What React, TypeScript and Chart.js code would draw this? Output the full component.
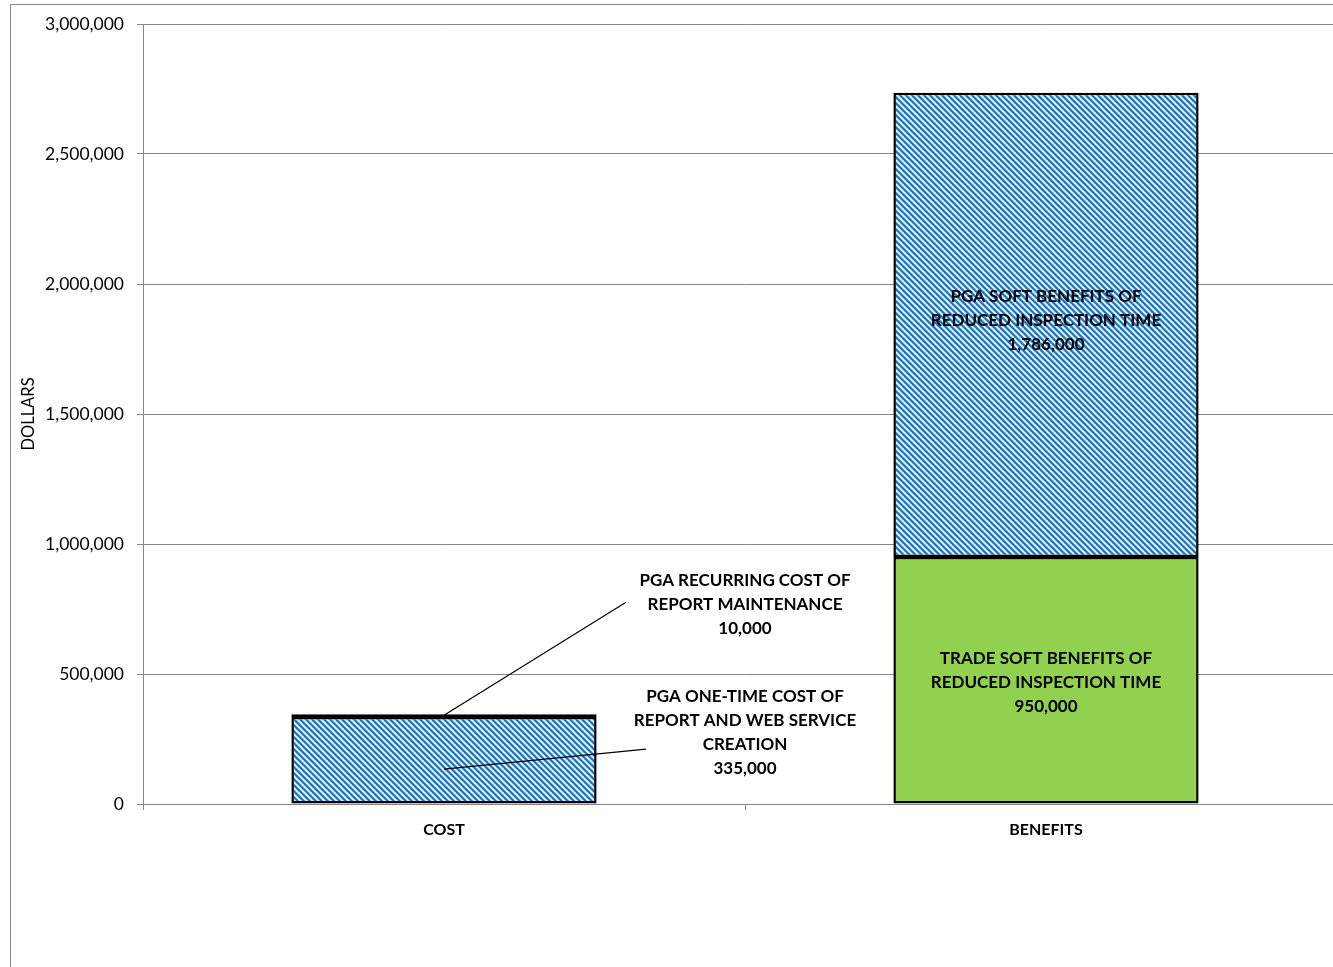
import React, { useEffect, useRef } from "react";
import { Chart, registerables } from "chart.js";

Chart.register(...registerables);

const categories = ["COST", "BENEFITS"];
const baseSegment = [335000, 950000];
const topSegment = [10000, 1786000];
const baseLabelText = [
  ["PGA ONE-TIME COST OF", "REPORT AND WEB SERVICE", "CREATION"],
  ["TRADE SOFT BENEFITS OF", "REDUCED INSPECTION TIME"],
];
const topLabelText = [
  ["PGA RECURRING COST OF", "REPORT MAINTENANCE"],
  ["PGA SOFT BENEFITS OF", "REDUCED INSPECTION TIME"],
];
const yMin = 0;
const yMax = 3000000;
const yStep = 500000;
const yTitle = "DOLLARS";

const GRID = "#868686";
const GREEN = "#92d050";
const FONT = "Lato";

function fmt(v: number) {
  return v.toLocaleString("en-US");
}

function makeHatch(ctx: CanvasRenderingContext2D) {
  const s = 6;
  const c = document.createElement("canvas");
  c.width = s;
  c.height = s;
  const g = c.getContext("2d")!;
  const cols = ["#1a78c6", "#1a78c6", "#4b97d6", "#d3e6f6", "#f6fafe", "#8cbfe8"];
  for (let y = 0; y < s; y++) {
    for (let x = 0; x < s; x++) {
      const d = (((x - y) % s) + s) % s;
      g.fillStyle = cols[d];
      g.fillRect(x, y, 1, 1);
    }
  }
  return ctx.createPattern(c, "repeat")!;
}

const annotationPlugin = {
  id: "annotations",
  afterDatasetsDraw(chart: any) {
    const { ctx, scales } = chart;
    const x = scales.x;
    const y = scales.y;
    const lh = 24;
    ctx.save();
    const drawBlock = (lines: string[], cx: number, cy: number) => {
      const n = lines.length;
      lines.forEach((l, i) => ctx.fillText(l, cx, cy + (i - (n - 1) / 2) * lh));
    };
    const x0 = x.getPixelForValue(0);
    const x1 = x.getPixelForValue(1);
    const mid = (x0 + x1) / 2;
    const costTop = y.getPixelForValue(baseSegment[0] + topSegment[0]);
    const zero = y.getPixelForValue(0);

    // leader lines
    ctx.strokeStyle = "#000";
    ctx.lineWidth = 1.2;
    ctx.beginPath();
    ctx.moveTo(x0, costTop + 1);
    ctx.lineTo(mid - 119, costTop - 112);
    ctx.stroke();
    ctx.beginPath();
    ctx.moveTo(x0, y.getPixelForValue(baseSegment[0] * 0.4));
    ctx.lineTo(mid - 99, y.getPixelForValue(baseSegment[0] * 0.4) - 20);
    ctx.stroke();

    ctx.font = `bold 17px ${FONT}`;
    ctx.fillStyle = "#000";
    ctx.textAlign = "center";
    ctx.textBaseline = "middle";

    // cost labels (outside)
    drawBlock([...topLabelText[0], fmt(topSegment[0])], mid, costTop - 110);
    drawBlock([...baseLabelText[0], fmt(baseSegment[0])], mid, costTop + 18);

    // benefits labels (inside)
    const bTop = y.getPixelForValue(baseSegment[1]);
    const bTotal = y.getPixelForValue(baseSegment[1] + topSegment[1]);
    drawBlock([...baseLabelText[1], fmt(baseSegment[1])], x1, (zero + bTop) / 2 + 2);
    drawBlock([...topLabelText[1], fmt(topSegment[1])], x1, (bTop + bTotal) / 2 - 4);
    ctx.restore();
  },
};

export default function App() {
  const ref = useRef<HTMLCanvasElement>(null);
  useEffect(() => {
    const canvas = ref.current!;
    const ctx = canvas.getContext("2d")!;
    const hatch = makeHatch(ctx);
    const chart = new Chart(ctx, {
      type: "bar",
      data: {
        labels: categories,
        datasets: [
          {
            label: "base",
            data: baseSegment,
            backgroundColor: [hatch, GREEN] as any,
            borderColor: "#000",
            borderWidth: 2.5,
            borderSkipped: false,
          },
          {
            label: "top",
            data: topSegment,
            backgroundColor: hatch as any,
            borderColor: "#000",
            borderWidth: 2.5,
            borderSkipped: false,
          },
        ],
      },
      options: {
        animation: false,
        responsive: false,
        maintainAspectRatio: false,
        layout: { padding: { top: 24, right: 13, bottom: 0, left: 0 } },
        plugins: { legend: { display: false }, tooltip: { enabled: false } },
        datasets: { bar: { categoryPercentage: 1, barPercentage: 0.507 } },
        scales: {
          x: {
            stacked: true,
            grid: { drawOnChartArea: false, offset: true, tickLength: 6, color: GRID },
            border: { color: GRID },
            ticks: { font: { family: FONT, size: 16, weight: "bold" }, color: "#000", padding: 10 },
            afterFit: (s: any) => {
              s.height = 163;
            },
          },
          y: {
            stacked: true,
            min: yMin,
            max: yMax,
            ticks: {
              stepSize: yStep,
              callback: (v: any) => fmt(Number(v)),
              font: { family: FONT, size: 17.5 },
              color: "#000",
              padding: 13,
            },
            grid: { color: GRID, tickLength: 6 },
            border: { color: GRID },
            title: {
              display: true,
              text: yTitle,
              font: { family: FONT, size: 16.5 },
              color: "#000",
              padding: { top: 19, bottom: 0 },
            },
            afterFit: (s: any) => {
              s.width = 143;
            },
          },
        },
      },
      plugins: [annotationPlugin],
    });
    return () => chart.destroy();
  }, []);

  return (
    <div
      style={{
        position: "fixed",
        left: 0,
        top: 0,
        width: 1333,
        height: 967,
        overflow: "hidden",
        background: "#fff",
      }}
    >
      <div
        style={{
          position: "absolute",
          left: 10,
          top: 4,
          width: 1400,
          height: 1000,
          border: "1px solid #8a8a8a",
        }}
      />
      <canvas
        ref={ref}
        width={1360}
        height={967}
        style={{ position: "absolute", left: 0, top: 0, width: 1360, height: 967 }}
      />
    </div>
  );
}
